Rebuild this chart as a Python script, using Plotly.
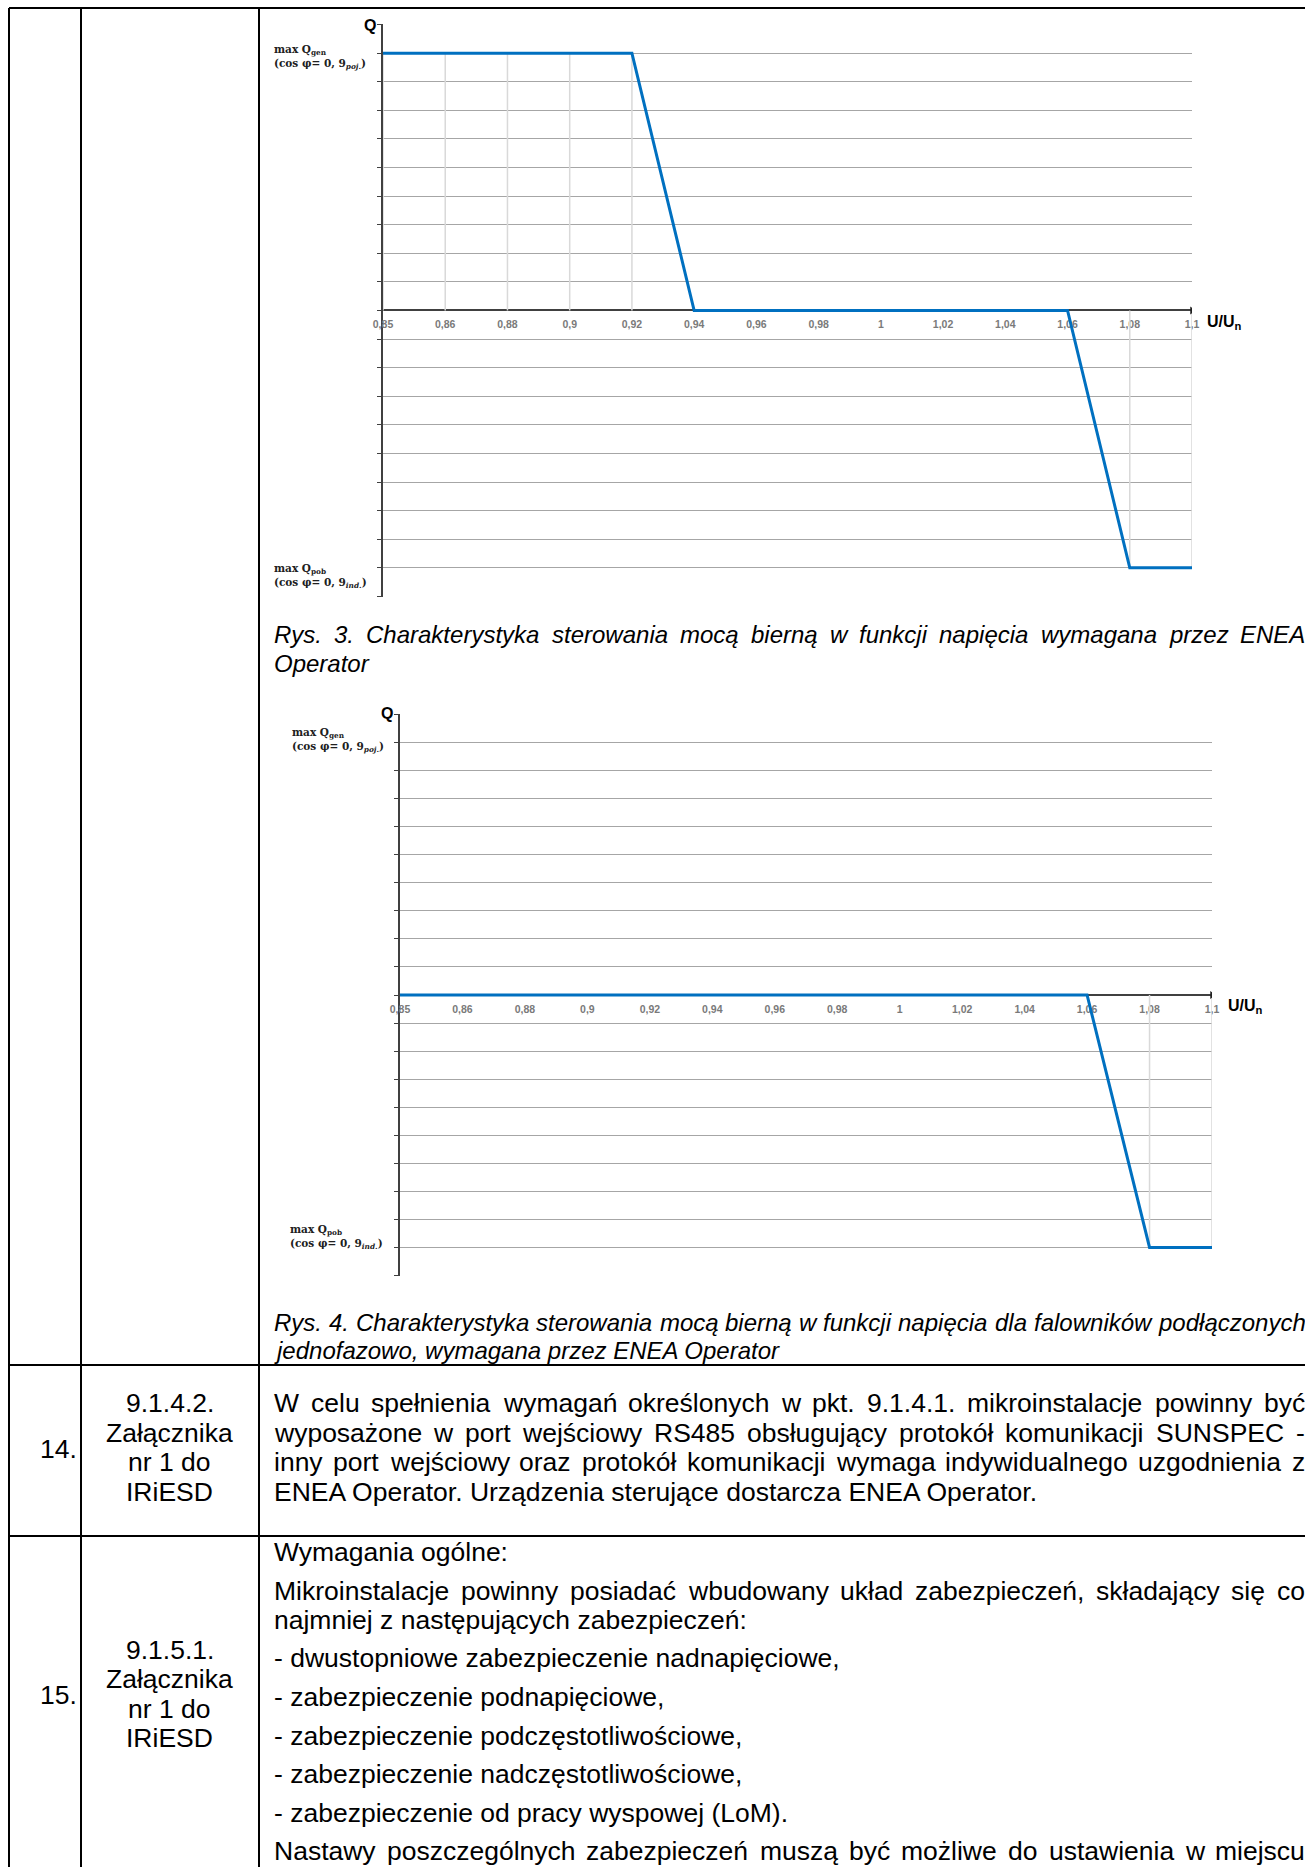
import plotly.graph_objects as go

# ---------------- data ----------------
categories = ["0,85", "0,86", "0,88", "0,9", "0,92", "0,94", "0,96", "0,98",
              "1", "1,02", "1,04", "1,06", "1,08", "1,1"]
q_rys3 = [9, 9, 9, 9, 9, 0, 0, 0, 0, 0, 0, 0, -9, -9]
q_rys4 = [0, 0, 0, 0, 0, 0, 0, 0, 0, 0, 0, 0, -9, -9]
q_limit = 10

label_qgen = "<b>max Q<sub>gen</sub><br>(cos φ= 0, 9<sub><i>poj.</i></sub>)</b>"
label_qpob = "<b>max Q<sub>pob</sub><br>(cos φ= 0, 9<sub><i>ind.</i></sub>)</b>"

caption3 = ["Rys. 3. Charakterystyka sterowania mocą bierną w funkcji napięcia wymagana przez ENEA",
            "Operator"]
caption4 = ["Rys. 4. Charakterystyka sterowania mocą bierną w funkcji napięcia dla falowników podłączonych",
            "jednofazowo, wymagana przez ENEA Operator"]

row14_no = "14."
row14_ref = ["9.1.4.2.", "Załącznika", "nr 1 do", "IRiESD"]
row14_text = ["W celu spełnienia wymagań określonych w pkt. 9.1.4.1. mikroinstalacje powinny być",
              "wyposażone w port wejściowy RS485 obsługujący protokół komunikacji SUNSPEC -",
              "inny port wejściowy oraz protokół komunikacji wymaga indywidualnego uzgodnienia z",
              "ENEA Operator. Urządzenia sterujące dostarcza ENEA Operator."]
row14_justify = [True, True, True, False]

row15_no = "15."
row15_ref = ["9.1.5.1.", "Załącznika", "nr 1 do", "IRiESD"]
row15_text = ["Wymagania ogólne:",
              "Mikroinstalacje powinny posiadać wbudowany układ zabezpieczeń, składający się co",
              "najmniej z następujących zabezpieczeń:",
              "- dwustopniowe zabezpieczenie nadnapięciowe,",
              "- zabezpieczenie podnapięciowe,",
              "- zabezpieczenie podczęstotliwościowe,",
              "- zabezpieczenie nadczęstotliwościowe,",
              "- zabezpieczenie od pracy wyspowej (LoM).",
              "Nastawy poszczególnych zabezpieczeń muszą być możliwe do ustawienia w miejscu"]
row15_justify = [False, True, False, False, False, False, False, False, True]

# ---------------- page geometry ----------------
W, H = 1305, 1867


def X(px):
    return px / W


def Y(py):
    return 1 - py / H


# Arial / Liberation Sans advance widths (1/1000 em) for justification
AW = {}
for chars, w in [(" !,./:;tfI", 278), ("ijlł", 222), ("-()r", 333),
                 ("cksvxyzśćżźJ", 500),
                 ("abdeghnopqu0123456789ąęóńL?", 556), ("FTZŻŹ", 611),
                 ("ABEKPSVXYŚ", 667), ("CDHNRUw", 722), ("GOQ", 778),
                 ("mM", 833), ("W", 944)]:
    for c in chars:
        AW[c] = w


def tw(s, size):
    return sum(AW.get(c, 556) for c in s) / 1000.0 * size


FONT = "Liberation Sans, Arial, sans-serif"
fig = go.Figure()


def add_text(text, x, y, size, italic=False, xanchor="left"):
    t = "<i>%s</i>" % text if italic else text
    fig.add_annotation(x=X(x), y=Y(y), xref="paper", yref="paper", text=t,
                       showarrow=False, xanchor=xanchor, yanchor="middle",
                       borderpad=0,
                       font=dict(family=FONT, size=size, color="black"))


def add_line(text, x0, x1, y, size, italic=False, justify=False):
    if not justify:
        add_text(text, x0, y, size, italic)
        return
    words = text.split(" ")
    ws = [tw(w, size) for w in words]
    gap = (x1 - x0 - sum(ws)) / (len(words) - 1)
    x = x0
    for w, wd in zip(words, ws):
        add_text(w, x, y, size, italic)
        x += wd + gap


# ---------------- charts ----------------
def add_chart(q, xa, ya, xdom, ydom_px, zero_px):
    xs, ys = [], []
    for c, v in zip(categories, q):
        if v != 0:
            xs += [c, c, None]
            ys += [0, v, None]
    fig.add_trace(go.Scatter(x=xs, y=ys, mode="lines", xaxis=xa, yaxis=ya,
                             line=dict(color="#d9d9d9", width=1.5),
                             hoverinfo="skip", showlegend=False))
    # arrow head at the end of the U/Un axis
    fig.add_trace(go.Scatter(x=[categories[-1]], y=[0], mode="markers",
                             xaxis=xa, yaxis=ya, hoverinfo="skip",
                             marker=dict(symbol="triangle-right", size=7,
                                         color="#202020"),
                             showlegend=False))
    fig.add_trace(go.Scatter(x=categories, y=q, mode="lines", xaxis=xa, yaxis=ya,
                             line=dict(color="#0070c0", width=3),
                             showlegend=False))
    xkey = "xaxis" if xa == "x" else "xaxis" + xa[1:]
    ykey = "yaxis" if ya == "y" else "yaxis" + ya[1:]
    fig.update_layout(**{
        xkey: dict(domain=[X(xdom[0]), X(xdom[1])], type="category",
                   categoryorder="array", categoryarray=categories,
                   range=[0, len(categories) - 1], anchor="free",
                   position=Y(zero_px), showgrid=False, zeroline=False,
                   showline=True, linecolor="#404040", linewidth=1.5,
                   ticks="", ticklabelstandoff=5, layer="below traces",
                   tickfont=dict(family=FONT, size=10.5, color="#7a7a7a",
                                 weight="bold")),
        ykey: dict(domain=[Y(ydom_px[1]), Y(ydom_px[0])],
                   range=[-q_limit - 0.02, q_limit + 0.02], tick0=0, dtick=1,
                   anchor=xa, showgrid=True, gridcolor="#a6a6a6", gridwidth=1.4,
                   zeroline=False, showline=True, linecolor="#404040",
                   linewidth=1.5, ticks="outside", ticklen=4,
                   tickcolor="#404040", showticklabels=False,
                   layer="below traces"),
    })


add_chart(q_rys3, "x", "y", (383, 1192), (24, 597), 310)
add_chart(q_rys4, "x2", "y2", (400, 1212), (714, 1276), 995)

AX_FONT = dict(family=FONT, size=16, color="black", weight="bold")
SER_FONT = dict(family="DejaVu Serif, serif", size=10.5, color="#202020")
for (qx, qy, ux, uy) in [(370, 26, 1224, 322), (387, 713, 1245, 1006)]:
    fig.add_annotation(x=X(qx), y=Y(qy), xref="paper", yref="paper", text="Q",
                       showarrow=False, xanchor="center", yanchor="middle",
                       font=AX_FONT)
    fig.add_annotation(x=X(ux), y=Y(uy), xref="paper", yref="paper",
                       text="U/U<sub>n</sub>", showarrow=False,
                       xanchor="center", yanchor="middle", font=AX_FONT)
for (lx, ly, txt) in [(272, 57, label_qgen), (272, 576, label_qpob),
                      (290, 740, label_qgen), (288, 1237, label_qpob)]:
    fig.add_annotation(x=X(lx), y=Y(ly), xref="paper", yref="paper", text=txt,
                       showarrow=False, xanchor="left", yanchor="middle",
                       align="left", font=SER_FONT)

# ---------------- captions & table text ----------------
TX0, TX1 = 273, 1304
CAP = 24
BODY = 26.5
for txt, y, j in zip(caption3, [635, 663], [True, False]):
    add_line(txt, TX0, TX1, y, CAP, italic=True, justify=j)
for txt, y, j in zip(caption4, [1322, 1350], [True, False]):
    add_line(txt, TX0, TX1, y, CAP, italic=True, justify=j)

r14_y = [1403, 1432.5, 1462, 1491.5]
for txt, y, j in zip(row14_text, r14_y, row14_justify):
    add_line(txt, TX0, TX1, y, BODY, justify=j)
for txt, y in zip(row14_ref, r14_y):
    add_text(txt, 170, y, BODY, xanchor="center")
add_text(row14_no, 78, 1449, BODY, xanchor="right")

r15_y = [1552, 1591, 1620, 1658, 1697, 1736, 1774, 1813, 1851]
for txt, y, j in zip(row15_text, r15_y, row15_justify):
    add_line(txt, TX0, TX1, y, BODY, justify=j)
for txt, y in zip(row15_ref, [1650, 1679, 1709, 1738]):
    add_text(txt, 170, y, BODY, xanchor="center")
add_text(row15_no, 78, 1695, BODY, xanchor="right")

# ---------------- table borders ----------------
shapes = []
for xv in [9, 81, 259]:
    shapes.append(dict(type="line", xref="paper", yref="paper", x0=X(xv), x1=X(xv),
                       y0=Y(8), y1=Y(H + 2), line=dict(color="black", width=2)))
for yv in [8, 1365, 1536]:
    shapes.append(dict(type="line", xref="paper", yref="paper", x0=X(9), x1=X(W + 2),
                       y0=Y(yv), y1=Y(yv), line=dict(color="black", width=2)))

fig.update_layout(width=W, height=H, margin=dict(l=0, r=0, t=0, b=0),
                  paper_bgcolor="white", plot_bgcolor="white",
                  template="none", showlegend=False, shapes=shapes)

fig.write_html("out.html", config={"displayModeBar": False},
               post_script="document.body.style.margin='0';"
                           "document.body.style.overflow='hidden';")
